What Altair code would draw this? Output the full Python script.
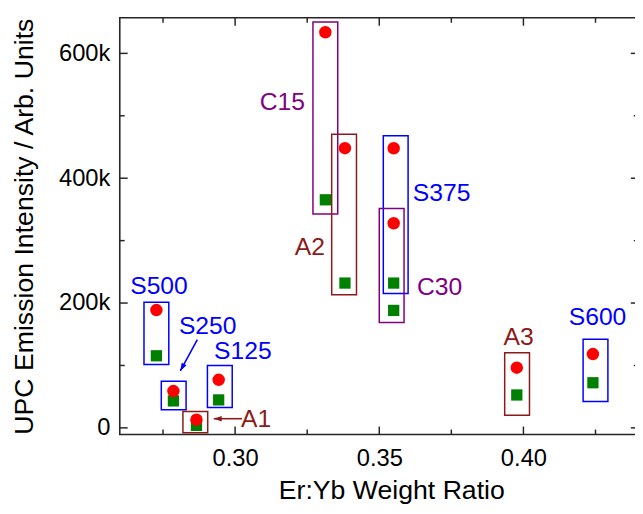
import altair as alt
import pandas as pd

# ---------------- data ----------------
groups = ["S500", "S250", "S125", "A1", "C15", "A2", "S375", "C30", "A3", "S600"]
families = ["S", "S", "S", "A", "C", "A", "S", "C", "A", "S"]
ratio = [0.2727, 0.2786, 0.2943, 0.2866, 0.3313, 0.3381, 0.3550, 0.3550, 0.3977, 0.4241]
red_vals = [188700, 59000, 77000, 13100, 633800, 448100, 448000, 327900, 96500, 118200]
green_vals = [115500, 43200, 44800, 4000, 365400, 232000, 232000, 188200, 52700, 72300]

box_center = [0.2727, 0.2787, 0.2947, 0.2862, 0.3313, 0.3378, 0.3557, 0.3543, 0.3978, 0.4250]
box_low = [101700, 28900, 32700, -7900, 342800, 213100, 215100, 168800, 20100, 42200]
box_high = [201400, 74800, 100100, 26400, 650100, 470300, 468200, 351600, 120200, 141900]

label_x = [0.2736, 0.2905, 0.3027, 0.3073, 0.3164, 0.3259, 0.3716, 0.3709, 0.3983, 0.4257]
label_y = [226700, 162400, 122300, 14700, 522000, 289000, 376000, 225700, 145000, 176700]

arrow_family = ["S", "A"]
arrow_x_tail = [0.2869, 0.3024]
arrow_y_tail = [141300, 14700]
arrow_x_head = [0.2810, 0.2926]
arrow_y_head = [91300, 14700]
arrow_angle = [208.6, 270]

x_major = [0.30, 0.35, 0.40]
x_minor = [0.275, 0.325, 0.375, 0.425]
y_major = [0, 200000, 400000, 600000]
y_minor = [100000, 300000, 500000]

# ---------------- layout constants ----------------
W, H = 525.6, 422
BOX_HALF = 0.0043
FONT = "Liberation Sans"
fam_domain = ["S", "A", "C"]
fam_range = ["#0000FF", "#8B1A1A", "#800080"]

xscale = alt.Scale(domain=[0.26, 0.44], nice=False, zero=False)
yscale = alt.Scale(domain=[-10600, 657000], nice=False, zero=False)
color_scale = alt.Scale(domain=fam_domain, range=fam_range)

XAXIS = alt.Axis(values=x_major, format=".2f", domain=False, ticks=False, grid=False,
                 labelFont=FONT, labelFontSize=24, labelColor="black", labelPadding=12,
                 title="Er:Yb Weight Ratio", titleFont=FONT, titleFontSize=27,
                 titleFontWeight="normal", titleColor="black",
                 titleX=275, titleY=65, titleBaseline="alphabetic")
YAXIS = alt.Axis(values=y_major, domain=False, ticks=False, grid=False,
                 labelExpr="datum.value == 0 ? '0' : format(datum.value / 1000, 'd') + 'k'",
                 labelFont=FONT, labelFontSize=24, labelColor="black", labelPadding=10,
                 title="UPC Emission Intensity / Arb. Units", titleFont=FONT,
                 titleFontSize=27, titleFontWeight="normal", titleColor="black",
                 titleX=-88, titleY=H / 2, titleBaseline="alphabetic")

pts = pd.DataFrame({"group": groups, "family": families, "ratio": ratio,
                    "red": red_vals, "green": green_vals})
boxes = pd.DataFrame({"family": families, "c": box_center, "lo": box_low, "hi": box_high})
boxes["x1"] = boxes["c"] - BOX_HALF
boxes["x2"] = boxes["c"] + BOX_HALF
labels = pd.DataFrame({"group": groups, "family": families, "lx": label_x, "ly": label_y})
arrows = pd.DataFrame({"family": arrow_family, "xt": arrow_x_tail, "yt": arrow_y_tail,
                       "xh": arrow_x_head, "yh": arrow_y_head, "ang": arrow_angle})


def X(field):
    return alt.X(field, type="quantitative", scale=xscale, axis=XAXIS)


def Y(field):
    return alt.Y(field, type="quantitative", scale=yscale, axis=YAXIS)


def xticks(vals, length):
    df = pd.DataFrame({"t": vals})
    bottom = alt.Chart(df).mark_rule(color="#262626", strokeWidth=1.5).encode(
        x=X("t"), y=alt.value(H), y2=alt.value(H - length))
    top = alt.Chart(df).mark_rule(color="#262626", strokeWidth=1.5).encode(
        x=X("t"), y=alt.value(0), y2=alt.value(length))
    return [bottom, top]


def yticks(vals, length):
    df = pd.DataFrame({"t": vals})
    left = alt.Chart(df).mark_rule(color="#262626", strokeWidth=1.5).encode(
        y=Y("t"), x=alt.value(0), x2=alt.value(length))
    right = alt.Chart(df).mark_rule(color="#262626", strokeWidth=1.5).encode(
        y=Y("t"), x=alt.value(W), x2=alt.value(W - length))
    return [left, right]


tick_layers = xticks(x_major, 8) + xticks(x_minor, 5) + yticks(y_major, 8) + yticks(y_minor, 5)

box_layer = alt.Chart(boxes).mark_rect(fillOpacity=0, strokeWidth=1.5).encode(
    x=X("x1"), x2="x2", y=Y("lo"), y2="hi",
    stroke=alt.Stroke("family:N", scale=color_scale, legend=None),
)

green_layer = alt.Chart(pts).mark_point(shape="square", filled=True, size=130,
                                        color="#008000", opacity=1).encode(
    x=X("ratio"), y=Y("green"))

red_layer = alt.Chart(pts).mark_point(shape="circle", filled=True, size=160,
                                      color="#FF0000", opacity=1).encode(
    x=X("ratio"), y=Y("red"))

text_layer = alt.Chart(labels).mark_text(font=FONT, fontSize=25, baseline="middle",
                                         align="center").encode(
    x=X("lx"), y=Y("ly"), text="group:N",
    color=alt.Color("family:N", scale=color_scale, legend=None),
)

arrow_shaft = alt.Chart(arrows).mark_rule(strokeWidth=1.6).encode(
    x=X("xt"), x2="xh", y=Y("yt"), y2="yh",
    color=alt.Color("family:N", scale=color_scale, legend=None),
)

arrow_head = alt.Chart(arrows).mark_point(shape="M0,0L0.7,2L-0.7,2Z", filled=True, size=64,
                                          opacity=1).encode(
    x=X("xh"), y=Y("yh"),
    angle=alt.Angle("ang:Q", scale=None),
    color=alt.Color("family:N", scale=color_scale, legend=None),
)

chart = alt.layer(
    *tick_layers, box_layer, green_layer, red_layer, text_layer,
    arrow_shaft, arrow_head,
).properties(
    width=W, height=H,
    autosize=alt.AutoSizeParams(type="none"),
    padding={"left": 113.2, "top": 6.7, "right": -3.8, "bottom": 77.3},
    background="white",
).configure_view(
    stroke="#262626", strokeWidth=1.6
)

chart.save("out.html", embed_options={"renderer": "svg", "actions": False})
